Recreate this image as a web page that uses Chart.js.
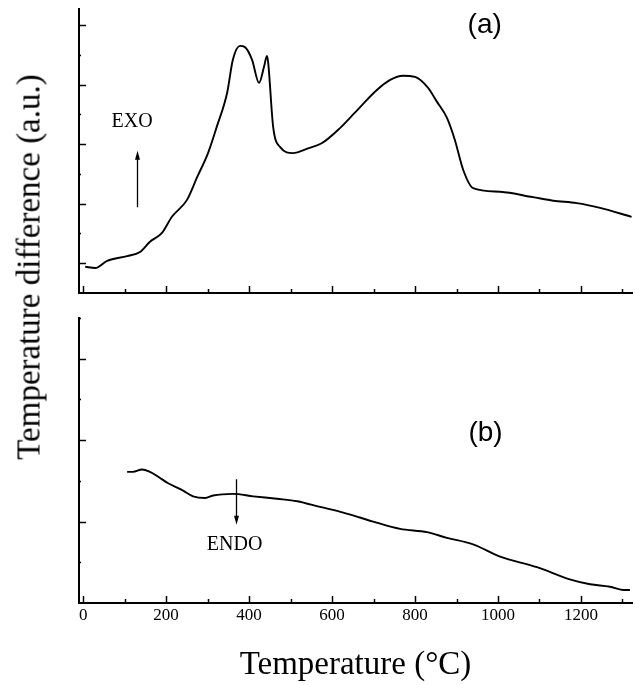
<!DOCTYPE html>
<html>
<head>
<meta charset="utf-8">
<script src="https://cdn.jsdelivr.net/npm/chart.js@4"></script>
<style>
body { margin: 0; background: #fff; width: 635px; height: 685px; position: relative; overflow: hidden; }
#topBox { position: absolute; left: 0; top: 0; width: 635px; height: 300px; }
#botBox { position: absolute; left: 0; top: 300px; width: 635px; height: 385px; }
#ytitle { position: absolute; left: 29px; top: 267px; transform: translate(-50%, -50%) rotate(-90deg);
          font: 33px "Liberation Serif", serif; white-space: nowrap; color: #000; }
</style>
</head>
<body>
<div id="topBox"><canvas id="chartA"></canvas></div>
<div id="botBox"><canvas id="chartB"></canvas></div>
<div id="ytitle">Temperature difference (a.u.)</div>
<script>
// curve (a): temperature (°C) and signal (a.u.)
const tempA = [5, 29, 58, 106, 137, 161, 190, 214, 250, 275, 301, 322, 347, 361, 378, 390, 407, 424, 436, 443, 446,
               458, 475, 506, 542, 576, 619, 655, 708, 740, 771, 800, 831, 853, 877, 896, 916, 940, 1005, 1084, 1133,
               1190, 1246, 1322];
const signalA = [0.94, 0.92, 1.04, 1.12, 1.19, 1.36, 1.51, 1.78, 2.06, 2.45, 2.85, 3.29, 3.86, 4.42, 4.65, 4.63, 4.42,
                 4.03, 4.30, 4.48, 4.37, 3.29, 2.95, 2.85, 2.93, 3.02, 3.27, 3.53, 3.91, 4.08, 4.15, 4.13, 3.95, 3.71,
                 3.44, 3.07, 2.57, 2.26, 2.20, 2.11, 2.05, 2.01, 1.93, 1.78];

// curve (b)
const tempB = [106, 120, 142, 161, 181, 205, 241, 265, 294, 313, 361, 410, 467, 516, 571, 627, 667, 699, 764, 829,
               877, 940, 1005, 1094, 1173, 1222, 1270, 1301, 1318];
const signalB = [1.61, 1.61, 1.64, 1.61, 1.55, 1.47, 1.38, 1.31, 1.29, 1.32, 1.34, 1.31, 1.28, 1.25, 1.18, 1.11, 1.05,
                 1.00, 0.91, 0.87, 0.80, 0.72, 0.57, 0.44, 0.29, 0.23, 0.20, 0.16, 0.16];

const xTicks = [0, 100, 200, 300, 400, 500, 600, 700, 800, 900, 1000, 1100, 1200, 1300];
const xTickLabels = [0, 200, 400, 600, 800, 1000, 1200];

const serif = '"Liberation Serif", "Times New Roman", serif';
const sans = '"Liberation Sans", Arial, sans-serif';

// ticks pointing into the plot, long at major values, short at minor ones
const inwardTicks = {
  id: 'inwardTicks',
  afterDraw(chart) {
    const ctx = chart.ctx, area = chart.chartArea;
    const x = chart.scales.x, y = chart.scales.y;
    ctx.save();
    ctx.strokeStyle = '#000';
    ctx.lineWidth = 1.5;
    x.ticks.forEach(t => {
      const px = Math.round(x.getPixelForValue(t.value)) + 0.5;
      const len = t.value % 200 === 0 ? 7 : 4;
      ctx.beginPath(); ctx.moveTo(px, area.bottom); ctx.lineTo(px, area.bottom - len); ctx.stroke();
    });
    for (let v = Math.ceil(y.min * 2) / 2; v <= y.max; v += 0.5) {
      if (v <= y.min) continue;
      const py = Math.round(y.getPixelForValue(v)) + 0.5;
      const len = v % 1 === 0 ? 7 : 2;
      ctx.beginPath(); ctx.moveTo(area.left, py); ctx.lineTo(area.left + len, py); ctx.stroke();
    }
    ctx.restore();
  }
};

// panel labels and EXO / ENDO arrows
const notes = {
  id: 'notes',
  afterDraw(chart, args, opts) {
    const ctx = chart.ctx, x = chart.scales.x, y = chart.scales.y;
    ctx.save();
    ctx.fillStyle = '#000';
    ctx.strokeStyle = '#000';
    ctx.textAlign = 'center';
    ctx.textBaseline = 'middle';
    (opts.texts || []).forEach(t => {
      ctx.font = t.font;
      ctx.fillText(t.text, x.getPixelForValue(t.x), y.getPixelForValue(t.y));
    });
    (opts.arrows || []).forEach(a => {
      const px = Math.round(x.getPixelForValue(a.x)) + 0.5;
      const p0 = y.getPixelForValue(a.y0), p1 = y.getPixelForValue(a.y1);
      const dir = p1 < p0 ? -1 : 1;
      ctx.lineWidth = 1.3;
      ctx.beginPath(); ctx.moveTo(px, p0); ctx.lineTo(px, p1 - dir * 6); ctx.stroke();
      ctx.beginPath();
      ctx.moveTo(px, p1);
      ctx.lineTo(px - 2.5, p1 - dir * 9);
      ctx.lineTo(px + 2.5, p1 - dir * 9);
      ctx.closePath(); ctx.fill();
    });
    ctx.restore();
  }
};

function panelOptions(yMin, yMax, showX, padding, notesCfg) {
  return {
    responsive: true,
    maintainAspectRatio: false,
    animation: false,
    layout: { padding: padding },
    plugins: { legend: { display: false }, tooltip: { enabled: false }, notes: notesCfg },
    elements: { point: { radius: 0 } },
    scales: {
      x: {
        type: 'linear', min: -10, max: 1323,
        grid: { display: false, drawTicks: false },
        border: { display: true, color: '#000', width: 2 },
        ticks: {
          display: showX, autoSkip: false, maxRotation: 0, padding: 2,
          color: '#000', font: { family: serif, size: 17 },
          callback: v => xTickLabels.includes(v) ? String(v) : ''
        },
        afterBuildTicks: s => { s.ticks = xTicks.map(v => ({ value: v })); },
        title: {
          display: showX, text: 'Temperature (°C)', color: '#000',
          font: { family: serif, size: 33 }, padding: 0
        },
        afterFit: s => { s.height = showX ? 82 : 0; }
      },
      y: {
        type: 'linear', min: yMin, max: yMax,
        grid: { display: false, drawTicks: false },
        border: { display: true, color: '#000', width: 2 },
        ticks: { display: false, stepSize: 0.5 },
        afterFit: s => { s.width = 0; }
      }
    }
  };
}

function lineData(xs, ys) {
  return {
    datasets: [{
      data: xs.map((t, i) => ({ x: t, y: ys[i] })),
      borderColor: '#000',
      borderWidth: 1.9,
      fill: false,
      cubicInterpolationMode: 'monotone'
    }]
  };
}

new Chart(document.getElementById('chartA'), {
  type: 'line',
  data: lineData(tempA, signalA),
  options: panelOptions(0.5, 5.27, false, { left: 79, top: 9, right: 3, bottom: 7 }, {
    texts: [
      { text: '(a)', x: 968, y: 5.0, font: '28px ' + sans },
      { text: 'EXO', x: 118, y: 3.38, font: '20px ' + serif }
    ],
    arrows: [{ x: 130, y0: 1.94, y1: 2.89 }]
  }),
  plugins: [inwardTicks, notes]
});

new Chart(document.getElementById('chartB'), {
  type: 'line',
  data: lineData(tempB, signalB),
  options: panelOptions(0, 3.5, true, { left: 79, top: 18, right: 3, bottom: 0 }, {
    texts: [
      { text: '(b)', x: 970, y: 2.08, font: '28px ' + sans },
      { text: 'ENDO', x: 365, y: 0.71, font: '20px ' + serif }
    ],
    arrows: [{ x: 368, y0: 1.52, y1: 0.96 }]
  }),
  plugins: [inwardTicks, notes]
});
</script>
</body>
</html>
